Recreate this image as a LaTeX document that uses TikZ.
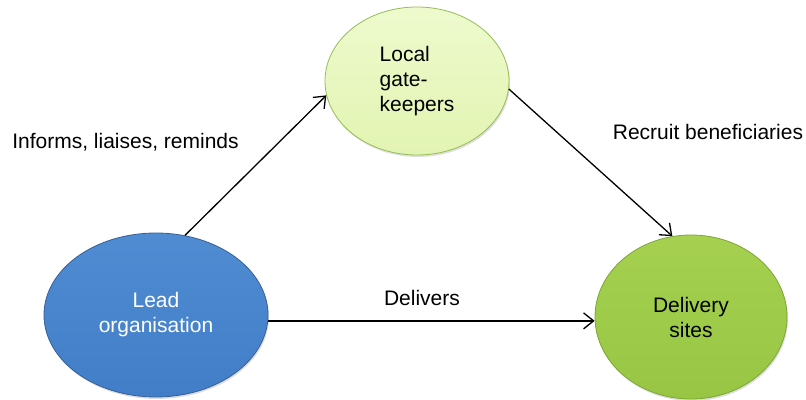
\documentclass[tikz,border=0pt]{standalone}
\usepackage{fontspec}
\setmainfont{Liberation Sans}
\usetikzlibrary{shapes.geometric,arrows.meta,shadows}
\definecolor{leadfill}{RGB}{66,126,200}
\definecolor{leadtop}{RGB}{80,140,210}
\definecolor{leadline}{RGB}{55,95,150}
\definecolor{gatefill}{RGB}{226,244,178}
\definecolor{gatetop}{RGB}{238,250,205}
\definecolor{gateline}{RGB}{150,188,85}
\definecolor{delfill}{RGB}{152,198,68}
\definecolor{deltop}{RGB}{165,208,80}
\definecolor{delline}{RGB}{125,165,55}
\tikzset{
  x=1pt, y=1pt,
  txt/.style={font=\fontsize{21}{25}\selectfont, align=center},
  blob/.style={ellipse, inner sep=0pt, txt, line width=0.8pt,
    drop shadow={shadow xshift=1pt, shadow yshift=-2pt, opacity=0.25}},
  arr/.style={-{Straight Barb[length=10pt,width=16pt]}, line width=1.3pt, black},
  lbl/.style={txt, inner sep=0pt}
}
\begin{document}
\begin{tikzpicture}
\useasboundingbox (0,0) rectangle (806,399);
\node[blob, minimum width=224pt, minimum height=164pt, draw=leadline,
      top color=leadtop, bottom color=leadfill, text=white] (lead) at (156,84) {Lead\\organisation};
\node[blob, minimum width=184pt, minimum height=148pt, draw=gateline,
      top color=gatetop, bottom color=gatefill, align=left] (gate) at (417,318) {Local\\gate-\\keepers};
\node[blob, minimum width=192pt, minimum height=164pt, draw=delline,
      top color=deltop, bottom color=delfill] (deliv) at (691,82) {Delivery\\sites};

\draw[arr] (lead.70) -- (gate.189);
\draw[arr] (gate.-5) -- (deliv.103);
\draw[arr] (lead.-3) -- (lead.-3 -| deliv.west);

\node[lbl] (l1) at (125.5,257) {Informs, liaises, reminds};
\node[lbl] (l2) at (708,267) {Recruit beneficiaries};
\node[lbl] (l3) at (422,101) {Delivers};
\end{tikzpicture}
\end{document}
